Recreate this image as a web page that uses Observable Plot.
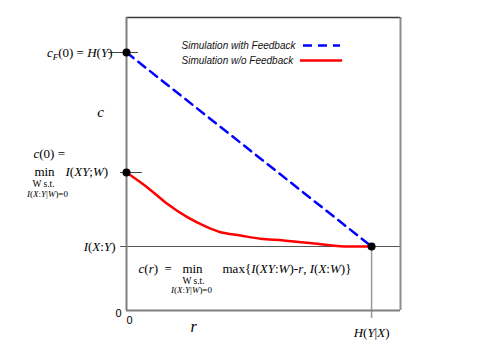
<!DOCTYPE html>
<html>
<head>
<meta charset="utf-8">
<script src="https://cdn.jsdelivr.net/npm/d3@7"></script>
<script src="https://cdn.jsdelivr.net/npm/@observablehq/plot@0.6"></script>
<style>
  html, body { margin: 0; padding: 0; background: #fff; }
</style>
</head>
<body>
<div id="chart"></div>
<script>
// ---- data (r normalised so H(Y|X) = 1; c in chart units) ----
const H_YX = 1;            // H(Y|X) on the r axis
const H_Y = 2.58;          // c_F(0) = H(Y)
const C0 = 1.38;           // c(0)
const I_XY = 0.64;         // I(X:Y)
const R_MAX = 1.118;       // right edge of the frame
const C_MAX = 2.93;        // top edge of the frame

const feedbackR = [0, H_YX];
const feedbackC = [H_Y, I_XY];

const noFeedbackR = [0, 0.084, 0.166, 0.248, 0.329, 0.384, 0.465, 0.547, 0.641, 0.778, 0.873, 1.0];
const noFeedbackC = [1.38, 1.233, 1.067, 0.933, 0.833, 0.783, 0.75, 0.717, 0.70, 0.667, 0.643, 0.64];

const legendLabels = ["Simulation with Feedback", "Simulation w/o Feedback"];

const feedback = feedbackR.map((r, i) => ({r, c: feedbackC[i]}));
const noFeedback = noFeedbackR.map((r, i) => ({r, c: noFeedbackC[i]}));
const keyPoints = [{r: 0, c: H_Y}, {r: 0, c: C0}, {r: H_YX, c: I_XY}];

const serif = "Liberation Serif";
const sans = "Liberation Sans";
const one = [0];

const plot = Plot.plot({
  width: 485,
  height: 363,
  marginLeft: 126,
  marginRight: 85,
  marginTop: 17,
  marginBottom: 53,
  x: {domain: [0, R_MAX], axis: null},
  y: {domain: [0, C_MAX], axis: null},
  style: {background: "#fff", overflow: "visible", fontFamily: serif, color: "#000"},
  marks: [
    // I(X:Y) horizontal reference line
    Plot.ruleY([I_XY], {x1: -0.024, x2: R_MAX, stroke: "#555", strokeWidth: 1}),
    // vertical drop line at H(Y|X)
    Plot.ruleX([H_YX], {y1: I_XY, y2: -0.08, stroke: "#999", strokeWidth: 1.5}),
    // short ticks at H(Y) and c(0)
    Plot.ruleY([H_Y], {x1: -0.073, x2: 0.049, stroke: "#444", strokeWidth: 1}),
    Plot.ruleY([C0], {x1: -0.024, x2: 0.065, stroke: "#444", strokeWidth: 1}),
    // frame
    Plot.ruleY([C_MAX], {x1: 0, x2: R_MAX, stroke: "#3a3a3a", strokeWidth: 1.5}),
    Plot.ruleX([R_MAX], {y1: 0, y2: C_MAX, stroke: "#8c8c8c", strokeWidth: 2}),
    Plot.ruleX([0], {y1: 0, y2: C_MAX, stroke: "#7f7f7f", strokeWidth: 2}),
    Plot.ruleY([0], {x1: 0, x2: R_MAX, stroke: "#7f7f7f", strokeWidth: 2}),
    // curves
    Plot.line(noFeedback, {x: "r", y: "c", stroke: "#ff0000", strokeWidth: 2.5, curve: "catmull-rom"}),
    Plot.line(feedback, {x: "r", y: "c", stroke: "#0000ff", strokeWidth: 2.5, strokeDasharray: "9,6"}),
    Plot.dot(keyPoints, {x: "r", y: "c", r: 4, fill: "#000"}),
    // legend
    Plot.text([legendLabels[0]], {x: 0.2245, y: 2.65, text: d => d, textAnchor: "start", fontFamily: sans, fontStyle: "italic", fontSize: 10, fill: "#111"}),
    Plot.text([legendLabels[1]], {x: 0.2245, y: 2.50, text: d => d, textAnchor: "start", fontFamily: sans, fontStyle: "italic", fontSize: 10, fill: "#111"}),
    Plot.ruleY([2.65], {x1: 0.722, x2: 0.873, stroke: "#0000ff", strokeWidth: 2.5, strokeDasharray: "9,6"}),
    Plot.ruleY([2.50], {x1: 0.71, x2: 0.882, stroke: "#ff0000", strokeWidth: 2.5}),
    // labels on the left
    Plot.text(one, {x: 0, y: H_Y, text: () => "cF(0) = H(Y)", dx: -14, textAnchor: "end", fontSize: 13, className: "lbl-cf"}),
    Plot.text(one, {x: 0, y: (H_Y + C0) / 2, text: () => "c", dx: -26, fontSize: 15, fontStyle: "italic"}),
    Plot.text(one, {x: 0, y: C0, text: () => "c(0) =", dx: -93, dy: -19, textAnchor: "start", fontSize: 13, className: "lbl-c0"}),
    Plot.text(one, {x: 0, y: C0, text: () => "min", dx: -82, dy: -1, fontSize: 13}),
    Plot.text(one, {x: 0, y: C0, text: () => "I(XY;W)", dx: -61, dy: -1, textAnchor: "start", fontSize: 13, className: "lbl-ixyw"}),
    Plot.text(one, {x: 0, y: C0, text: () => "W s.t.", dx: -83, dy: 11, fontSize: 9.5}),
    Plot.text(one, {x: 0, y: C0, text: () => "I(X:Y|W)=0", dx: -79, dy: 22, fontSize: 9, className: "lbl-cond"}),
    Plot.text(one, {x: 0, y: I_XY, text: () => "I(X:Y)", dx: -11, textAnchor: "end", fontSize: 13, className: "lbl-ixy"}),
    // formula
    Plot.text(one, {x: 0, y: I_XY, text: () => "c(r)  =", dx: 12, dy: 22, textAnchor: "start", fontSize: 13, className: "lbl-cr"}),
    Plot.text(one, {x: 0, y: I_XY, text: () => "min", dx: 66, dy: 22, fontSize: 13}),
    Plot.text(one, {x: 0, y: I_XY, text: () => "max{I(XY:W)-r, I(X:W)}", dx: 96, dy: 22, textAnchor: "start", fontSize: 13, className: "lbl-max"}),
    Plot.text(one, {x: 0, y: I_XY, text: () => "W s.t.", dx: 67, dy: 34, fontSize: 9.5}),
    Plot.text(one, {x: 0, y: I_XY, text: () => "I(X:Y|W)=0", dx: 65, dy: 44, fontSize: 9, className: "lbl-cond"}),
    // axis labels
    Plot.text(one, {x: 0, y: 0, text: () => "0", dx: -8, dy: 3, fontFamily: sans, fontSize: 11}),
    Plot.text(one, {x: 0, y: 0, text: () => "0", dx: 3, dy: 10, fontFamily: sans, fontSize: 11}),
    Plot.text(one, {x: 0, y: 0, text: () => "r", dx: 67, dy: 16, fontSize: 16, fontStyle: "italic"}),
    Plot.text(one, {x: H_YX, y: 0, text: () => "H(Y|X)", dy: 22, fontSize: 13, className: "lbl-hyx"})
  ]
});

document.getElementById("chart").append(plot);

// rich text (italics / subscripts) for math labels
const rich = {
  "lbl-cf": '<tspan font-style="italic">c</tspan><tspan font-style="italic" font-size="9" dy="3">F</tspan><tspan dy="-3">(0) = </tspan><tspan font-style="italic">H</tspan>(<tspan font-style="italic">Y</tspan>)',
  "lbl-c0": '<tspan font-style="italic">c</tspan>(0) =',
  "lbl-ixyw": '<tspan font-style="italic">I</tspan>(<tspan font-style="italic">XY</tspan>;<tspan font-style="italic">W</tspan>)',
  "lbl-cond": '<tspan font-style="italic">I</tspan>(<tspan font-style="italic">X</tspan>:<tspan font-style="italic">Y</tspan>|<tspan font-style="italic">W</tspan>)=0',
  "lbl-ixy": '<tspan font-style="italic">I</tspan>(<tspan font-style="italic">X</tspan>:<tspan font-style="italic">Y</tspan>)',
  "lbl-cr": '<tspan font-style="italic">c</tspan>(<tspan font-style="italic">r</tspan>)  =',
  "lbl-max": 'max{<tspan font-style="italic">I</tspan>(<tspan font-style="italic">XY</tspan>:<tspan font-style="italic">W</tspan>)-<tspan font-style="italic">r</tspan>, <tspan font-style="italic">I</tspan>(<tspan font-style="italic">X</tspan>:<tspan font-style="italic">W</tspan>)}',
  "lbl-hyx": '<tspan font-style="italic">H</tspan>(<tspan font-style="italic">Y</tspan>|<tspan font-style="italic">X</tspan>)'
};
for (const [cls, html] of Object.entries(rich)) {
  d3.select(plot).selectAll("." + cls + " text").each(function() {
    this.innerHTML = html;
    this.setAttribute("xml:space", "preserve");
  });
}
</script>
</body>
</html>
